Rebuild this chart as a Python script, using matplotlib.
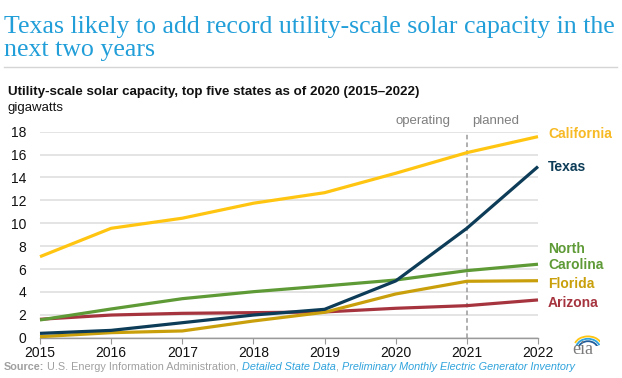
import matplotlib
matplotlib.use("Agg")
import matplotlib.pyplot as plt
from matplotlib.patches import Arc

years = [2015, 2016, 2017, 2018, 2019, 2020, 2021, 2022]
california = [7.08, 9.56, 10.44, 11.75, 12.67, 14.37, 16.17, 17.57]
texas = [0.38, 0.64, 1.31, 1.98, 2.48, 4.96, 9.56, 14.95]
north_carolina = [1.55, 2.51, 3.41, 4.02, 4.52, 5.04, 5.86, 6.42]
florida = [0.09, 0.44, 0.59, 1.46, 2.22, 3.82, 4.93, 4.98]
arizona = [1.61, 1.98, 2.13, 2.19, 2.25, 2.57, 2.80, 3.30]
y_ticks = [0, 2, 4, 6, 8, 10, 12, 14, 16, 18]

plt.rcParams['font.family'] = ['Liberation Sans', 'DejaVu Sans']

W, H = 622, 378
fig = plt.figure(figsize=(W/100, H/100), dpi=100)

def fx(px): return px / W
def fy(py): return 1 - py / H

ax = fig.add_axes([fx(40), fy(337.7), fx(538) - fx(40), fy(131.7) - fy(337.7)])

series = [
    (arizona, '#A6343F'),
    (florida, '#C9A00C'),
    (north_carolina, '#5E9A36'),
    (texas, '#0C3C57'),
    (california, '#FFC511'),
]
for vals, c in series:
    ax.plot(years, vals, color=c, lw=2.3, solid_capstyle='butt', clip_on=False, zorder=3)

ax.set_xlim(2015, 2022)
ax.set_ylim(0, 18)
ax.set_yticks(y_ticks)
ax.set_xticks(years)
ax.grid(axis='y', color='#dcdcdc', lw=1.1)
ax.set_axisbelow(True)
for s in ['top', 'right', 'left']:
    ax.spines[s].set_visible(False)
ax.spines['bottom'].set_color('#9a9a9a')
ax.spines['bottom'].set_linewidth(1.0)
ax.tick_params(axis='y', length=0, pad=10, labelsize=10, labelcolor='#111111')
ax.tick_params(axis='x', length=4, color='#9a9a9a', pad=2, labelsize=10, labelcolor='#111111')

ax.axvline(2021, color='#9a9a9a', lw=1.1, ls=(0, (3, 2)), zorder=2)
ax.text(2020.39, 18.45, 'operating', color='#7f7f7f', fontsize=9.5, ha='center', va='bottom')
ax.text(2021.41, 18.45, 'planned', color='#7f7f7f', fontsize=9.5, ha='center', va='bottom')

lab_x = fx(548)
labs = [
    ('California', 134, '#F7B924'),
    ('Texas', 167, '#0C3C57'),
    ('North\nCarolina', 257, '#5E9A36'),
    ('Florida', 284, '#C9A00C'),
    ('Arizona', 303, '#A6343F'),
]
for t, py, c in labs:
    fig.text(lab_x, fy(py), t, color=c, fontsize=10, fontweight='bold', ha='left', va='center',
             linespacing=1.15)

# Title, fitted to the reference width
title_kw = dict(family='Liberation Serif', color='#229FD9', ha='left', va='baseline')
l1 = fig.text(fx(4), fy(33), 'Texas likely to add record utility-scale solar capacity in the',
              fontsize=20, **title_kw)
l2 = fig.text(fx(4), fy(56), 'next two years', fontsize=20, **title_kw)
fig.canvas.draw()
r = fig.canvas.get_renderer()
w = l1.get_window_extent(r).width
fs = 20 * 612 / w
l1.set_fontsize(fs)
l2.set_fontsize(fs)

fig.add_artist(plt.Line2D([fx(4), fx(617)], [fy(67), fy(67)], color='#d5d5d5', lw=1))

fig.text(fx(8), fy(92), 'Utility-scale solar capacity, top five states as of 2020 (2015\u20132022)',
         fontsize=9.6, fontweight='bold', color='#111111', ha='left', va='center')
fig.text(fx(8), fy(108), 'gigawatts', fontsize=9.5, color='#111111', ha='left', va='center')

src_y = fy(367)
parts = [
    ('Source:', dict(fontweight='bold', color='#a0a0a0')),
    (' U.S. Energy Information Administration, ', dict(color='#a0a0a0')),
    ('Detailed State Data', dict(color='#2FA3DC', style='italic')),
    (', ', dict(color='#a0a0a0')),
    ('Preliminary Monthly Electric Generator Inventory', dict(color='#2FA3DC', style='italic')),
]
def draw_source(fsz):
    arts = []
    x = fx(4)
    for txt, kw in parts:
        t = fig.text(x, src_y, txt, fontsize=fsz, ha='left', va='center', **kw)
        fig.canvas.draw()
        bb = t.get_window_extent(r)
        x = bb.x1 / fig.bbox.width
        arts.append(t)
    return arts, x * W
arts, end = draw_source(8)
if abs(end - 581) > 3:
    for a in arts:
        a.remove()
    scale = (581 - 4) / (end - 4)
    arts, end = draw_source(8 * scale)

# eia logo
fig.text(fx(583), fy(350), 'eia', family='Liberation Serif', fontsize=13, color='#7a7a7a',
         ha='center', va='center')
lax = fig.add_axes([fx(570), fy(346), fx(30), fy(334) - fy(346)])
lax.set_xlim(0, 1); lax.set_ylim(0, 1); lax.axis('off')
lax.add_patch(Arc((0.6, 0.0), 0.9, 1.6, theta1=40, theta2=150, color='#FFC511', lw=1.3))
lax.add_patch(Arc((0.6, -0.2), 0.8, 1.6, theta1=35, theta2=150, color='#2FA3DC', lw=1.3))
lax.add_patch(Arc((0.6, -0.4), 0.7, 1.6, theta1=30, theta2=150, color='#1F5C99', lw=1.3))

fig.savefig('out.png', dpi=100)
